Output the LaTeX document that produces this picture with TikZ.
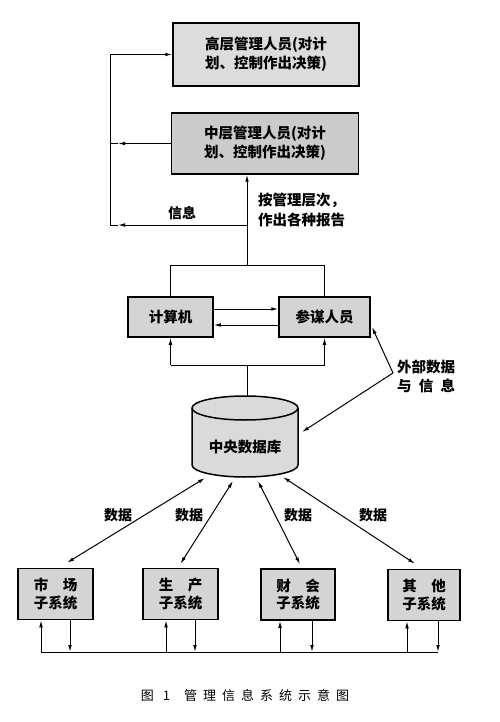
\documentclass[tikz,border=0pt]{standalone}
\usepackage{fontspec}
\newfontfamily\cjk{Noto Sans CJK SC}
\usetikzlibrary{arrows.meta,calc}
\definecolor{topfill}{RGB}{220,220,220}
\definecolor{midfill}{RGB}{203,203,203}
\definecolor{boxfill}{RGB}{212,212,212}
\definecolor{dbfill}{RGB}{218,218,218}
\begin{document}
\begin{tikzpicture}[x=1pt,y=-1pt,
  box/.style={draw=black, line width=1.5pt, align=center, inner sep=0pt,
    font=\cjk\bfseries\fontsize{14.5}{19}\selectfont},
  lbl/.style={font=\cjk\bfseries\fontsize{14}{18}\selectfont, inner sep=1pt},
  conn/.style={line width=1pt},
  arr/.style={conn, -{Latex[length=7pt,width=3.6pt]}},
  darr/.style={conn, {Latex[length=7pt,width=3.6pt]}-{Latex[length=7pt,width=3.6pt]}}
]
\useasboundingbox[fill=white] (0,0) rectangle (500,722);

% management boxes
\node[box, fill=topfill, minimum width=186pt, minimum height=63pt] (top) at (266,54.5)
  {高层管理人员(对计\\划、控制作出决策)};
\node[box, fill=midfill, minimum width=187pt, minimum height=61pt] (mid) at (265,143.5)
  {中层管理人员(对计\\划、控制作出决策)};

% left feedback loop
\coordinate (L1) at (110,54.5);
\coordinate (L2) at (110,143.5);
\coordinate (L3) at (110,225);
\coordinate (m2) at (118,143.5);
\coordinate (m3) at (118,225);
\coordinate (J) at (247,225);
\coordinate (T) at (247,265);
\draw[conn] (L1) -- (L3);
\draw[arr] (L1) -- (top.west);
\draw[arr] (mid.west) -- (m2);
\draw[conn] (m2) -- (L2);
\draw[arr] (J) -- (m3);
\draw[conn] (m3) -- (L3);
\draw[arr] (T) -- (mid.south -| T);
\node[lbl] (info) at (182,213) {信息};
\node[lbl, align=left, anchor=west, font=\cjk\bfseries\fontsize{14.5}{20}\selectfont] (rep) at (257,210)
  {按管理层次，\\作出各种报告};

% computer and staff
\node[box, fill=boxfill, minimum width=85pt, minimum height=40pt] (comp) at (170.5,317) {计算机};
\node[box, fill=boxfill, minimum width=91pt, minimum height=40pt] (staff) at (324.5,317) {参谋人员};
\draw[conn] (comp.north |- T) -- (staff.north |- T);
\draw[conn] (comp.north |- T) -- (comp.north);
\draw[conn] (staff.north |- T) -- (staff.north);
\draw[arr] ([yshift=8pt]comp.east) -- ([yshift=8pt]staff.west);
\draw[arr] ([yshift=-8pt]staff.west) -- ([yshift=-8pt]comp.east);

\coordinate (B) at (247,365);
\coordinate (dbt) at (247,396);
\draw[conn] (comp.south |- B) -- (staff.south |- B);
\draw[arr] (comp.south |- B) -- (comp.south);
\draw[arr] (staff.south |- B) -- (staff.south);
\draw[conn] (B) -- (dbt);

% central database (cylinder)
\fill[dbfill] (192,408) -- (192,465) arc[start angle=180,end angle=360,x radius=53pt,y radius=12pt]
  -- (298,408) arc[start angle=0,end angle=180,x radius=53pt,y radius=12pt] -- cycle;
\draw[line width=1.5pt] (192,408) -- (192,465) arc[start angle=180,end angle=360,x radius=53pt,y radius=12pt]
  -- (298,408);
\draw[line width=1.5pt] (245,408) ellipse[x radius=53pt,y radius=12pt];
\node[lbl, font=\cjk\bfseries\fontsize{14.5}{18}\selectfont] (db) at (245,447) {中央数据库};

% external data
\node[lbl, align=center, anchor=west, font=\cjk\bfseries\fontsize{14.5}{19}\selectfont] (ext) at (396,376)
  {外部数据\\与\hspace{0.5em}信\hspace{0.5em}息};
\coordinate (ex) at (393,373);
\coordinate (stx) at (372,327);
\coordinate (dbx) at (302,432);
\draw[arr] (ex) -- (stx);
\draw[arr] (ex) -- (dbx);

% subsystems
\tikzset{subbox/.style={box, fill=boxfill, minimum height=51pt,
  font=\cjk\bfseries\fontsize{14.5}{17.5}\selectfont}}
\node[subbox, minimum width=75pt] (ms) at (55.5,594) {市\hspace{1em}场\\子系统};
\node[subbox, minimum width=75pt] (ps) at (180.5,594) {生\hspace{1em}产\\子系统};
\node[subbox, minimum width=74pt] (fs) at (298,594.5) {财\hspace{1em}会\\子系统};
\node[subbox, minimum width=72pt] (os) at (424,595) {其\hspace{1em}他\\子系统};

% data links
\coordinate (d1) at (205,478);
\coordinate (d2) at (233,481);
\coordinate (d3) at (258,481);
\coordinate (d4) at (283,477);
\draw[darr] (d1) -- ($(ms.north)+(11.5,-5)$);
\draw[darr] (d2) -- ($(ps.north)+(0,-4)$);
\draw[darr] (d3) -- ($(fs.north)+(2,-4)$);
\draw[darr] (d4) -- ($(os.north)+(-9,-5)$);
\node[lbl] (dl1) at (118,515) {数据};
\node[lbl] (dl2) at (189,515) {数据};
\node[lbl] (dl3) at (298,515) {数据};
\node[lbl] (dl4) at (373,515) {数据};

% bus
\coordinate (busL) at (41,652);
\coordinate (busR) at (438,652);
\draw[conn] (busL) -- (busR);
\foreach \n/\a/\b in {ms/-14.5/14.5, ps/-14.5/14.5, fs/-18/14, os/-17/14}{
  \coordinate (ua) at ($(\n.south)+(\a,0)$);
  \coordinate (ub) at ($(\n.south)+(\b,0)$);
  \draw[arr] (ua |- busL) -- (ua);
  \draw[arr] (ub) -- (ub |- busL);
}

% caption
\node[font=\cjk\fontsize{13}{15}\selectfont, inner sep=0pt] (cap) at (245,696)
  {图\hspace{9pt}1\hspace{14pt}管\hspace{6pt}理\hspace{6pt}信\hspace{6pt}息\hspace{6pt}系\hspace{6pt}统\hspace{6pt}示\hspace{6pt}意\hspace{6pt}图};
\end{tikzpicture}
\end{document}
